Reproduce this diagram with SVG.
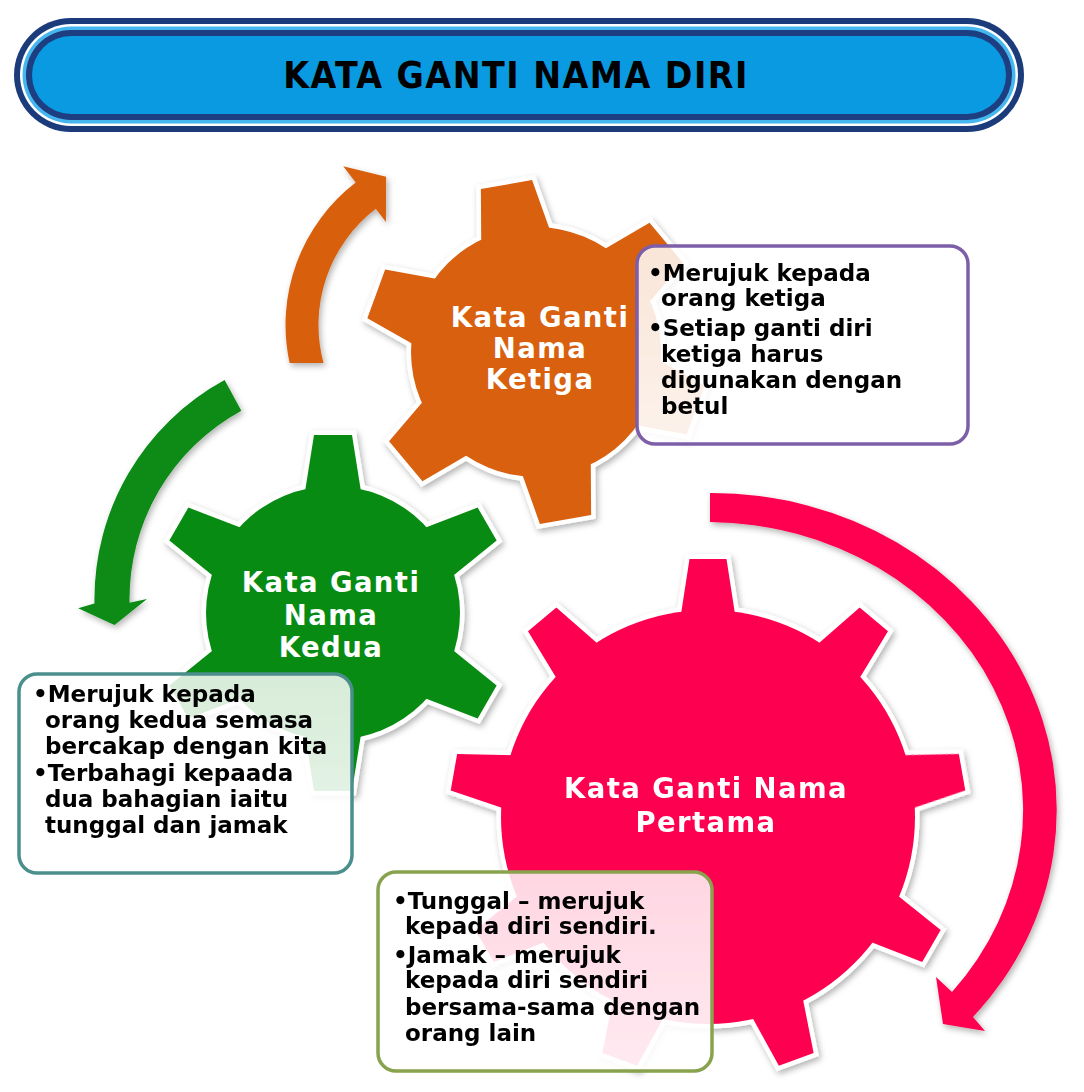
<svg xmlns="http://www.w3.org/2000/svg" width="1084" height="1092" viewBox="0 0 1084 1092">
<defs>
<style>
.lbl{font-family:"DejaVu Sans","Liberation Sans",sans-serif;font-weight:bold;font-size:27.5px;letter-spacing:1.4px;fill:#fff;text-anchor:middle}
.bt{font-family:"DejaVu Sans","Liberation Sans",sans-serif;font-weight:bold;font-size:23px;fill:#000}
.title{font-family:"DejaVu Sans Condensed","DejaVu Sans",sans-serif;font-stretch:condensed;font-weight:bold;font-size:37px;fill:#000;text-anchor:middle;letter-spacing:1.5px}
.ol{fill:#fff;stroke:#fff;stroke-width:9;stroke-linejoin:miter}
.box{fill:url(#bf);stroke-width:3.5}
.arr{filter:url(#sh)}
</style>
<filter id="sh" x="-15%" y="-15%" width="135%" height="135%"><feDropShadow dx="2" dy="3" stdDeviation="3" flood-color="#000" flood-opacity="0.3"/></filter>
<linearGradient id="bf" x1="0" y1="0" x2="0" y2="1"><stop offset="0" stop-color="#fff" stop-opacity="0.84"/><stop offset="1" stop-color="#fff" stop-opacity="0.92"/></linearGradient>
<polygon id="t9" points="190,-29 258,-18.5 258,18.5 190,29"/>
<polygon id="t6g" points="112,-29.5 178,-19 178,19 112,29.5"/>
<polygon id="t6o" points="108,-36.5 170,-26 170,26 108,36.5"/>
<g id="gp"><circle r="207"/><use href="#t9" transform="rotate(-90)"/><use href="#t9" transform="rotate(-50)"/><use href="#t9" transform="rotate(-10)"/><use href="#t9" transform="rotate(30)"/><use href="#t9" transform="rotate(70)"/><use href="#t9" transform="rotate(110)"/><use href="#t9" transform="rotate(150)"/><use href="#t9" transform="rotate(190)"/><use href="#t9" transform="rotate(230)"/></g>
<g id="gg"><circle r="127"/><use href="#t6g" transform="rotate(-90)"/><use href="#t6g" transform="rotate(-30)"/><use href="#t6g" transform="rotate(30)"/><use href="#t6g" transform="rotate(90)"/><use href="#t6g" transform="rotate(150)"/><use href="#t6g" transform="rotate(210)"/></g>
<g id="go"><circle r="125"/><use href="#t6o" transform="rotate(-100)"/><use href="#t6o" transform="rotate(-40)"/><use href="#t6o" transform="rotate(20)"/><use href="#t6o" transform="rotate(80)"/><use href="#t6o" transform="rotate(140)"/><use href="#t6o" transform="rotate(200)"/></g>
</defs>
<rect width="1084" height="1092" fill="#fff"/>

<g id="title">
<rect x="14" y="18" width="1010" height="114" rx="57" fill="#1b3b7b"/>
<rect x="20" y="24" width="998" height="102" rx="51" fill="#ffffff"/>
<rect x="22.5" y="26.5" width="993" height="97" rx="48.5" fill="#45b6ee"/>
<rect x="26" y="30" width="986" height="90" rx="45" fill="#1d3e80"/>
<rect x="32" y="36" width="974" height="78" rx="39" fill="#0a9ae2"/>
<text class="title" x="516" y="88">KATA GANTI NAMA DIRI</text>
</g>

<g id="gear-ketiga" transform="translate(536 352)">
<use href="#go" class="ol" filter="url(#sh)"/>
<use href="#go" fill="#d8600e"/>
<text class="lbl" x="4" y="-25">Kata Ganti</text>
<text class="lbl" x="4" y="6">Nama</text>
<text class="lbl" x="4" y="37">Ketiga</text>
</g>

<g id="gear-kedua" transform="translate(333 613)">
<use href="#gg" class="ol" filter="url(#sh)"/>
<use href="#gg" fill="#078b12"/>
<text class="lbl" x="-2" y="-21">Kata Ganti</text>
<text class="lbl" x="-2" y="12">Nama</text>
<text class="lbl" x="-2" y="44">Kedua</text>
</g>

<g id="gear-pertama" transform="translate(708 817)">
<use href="#gp" class="ol" filter="url(#sh)"/>
<use href="#gp" fill="#fe0050"/>
<text class="lbl" x="-2" y="-19">Kata Ganti Nama</text>
<text class="lbl" x="-2" y="15">Pertama</text>
</g>

<g id="connectors">
<path class="arr" fill="#d8600e" d="M289.6 363 A179.5 179.5 0 0 1 355.7 182.6 L343.2 166.3 L386.1 176.7 L385.9 221.9 L375.8 208.8 A146.5 146.5 0 0 0 323.5 363 Z"/>
<path class="arr" fill="#078b12" d="M224.6 380 A249.5 249.5 0 0 0 94.5 603.4 L78.2 608.3 L114.5 625.1 L147 599 L129.5 602.7 A214.5 214.5 0 0 1 241.3 410.7 Z"/>
<path class="arr" fill="#fe0050" d="M710 493 A345 317 0 0 1 973 1017 L985 1031 L943 1024 L936 977 L952 992 A316 288 0 0 0 710 522 Z"/>
</g>

<g id="box-ketiga">
<rect class="box" x="637" y="246" width="331" height="198" rx="18" stroke="#7d5ea8"/>
<text class="bt" x="648" y="281">•Merujuk kepada</text>
<text class="bt" x="661" y="306">orang ketiga</text>
<text class="bt" x="648" y="336">•Setiap ganti diri</text>
<text class="bt" x="661" y="362">ketiga harus</text>
<text class="bt" x="661" y="388">digunakan dengan</text>
<text class="bt" x="661" y="414">betul</text>
</g>

<g id="box-kedua">
<rect class="box" x="19" y="674" width="333" height="199" rx="18" stroke="#4b8f8c"/>
<text class="bt" x="33" y="702">•Merujuk kepada</text>
<text class="bt" x="45" y="728">orang kedua semasa</text>
<text class="bt" x="45" y="754">bercakap dengan kita</text>
<text class="bt" x="33" y="781">•Terbahagi kepaada</text>
<text class="bt" x="45" y="807">dua bahagian iaitu</text>
<text class="bt" x="45" y="833">tunggal dan jamak</text>
</g>

<g id="box-pertama">
<rect class="box" x="378" y="872" width="334" height="199" rx="18" stroke="#88a24e"/>
<text class="bt" x="393" y="909">•Tunggal – merujuk</text>
<text class="bt" x="405" y="934">kepada diri sendiri.</text>
<text class="bt" x="393" y="963">•Jamak – merujuk</text>
<text class="bt" x="405" y="988">kepada diri sendiri</text>
<text class="bt" x="405" y="1015">bersama-sama dengan</text>
<text class="bt" x="405" y="1041">orang lain</text>
</g>
</svg>
